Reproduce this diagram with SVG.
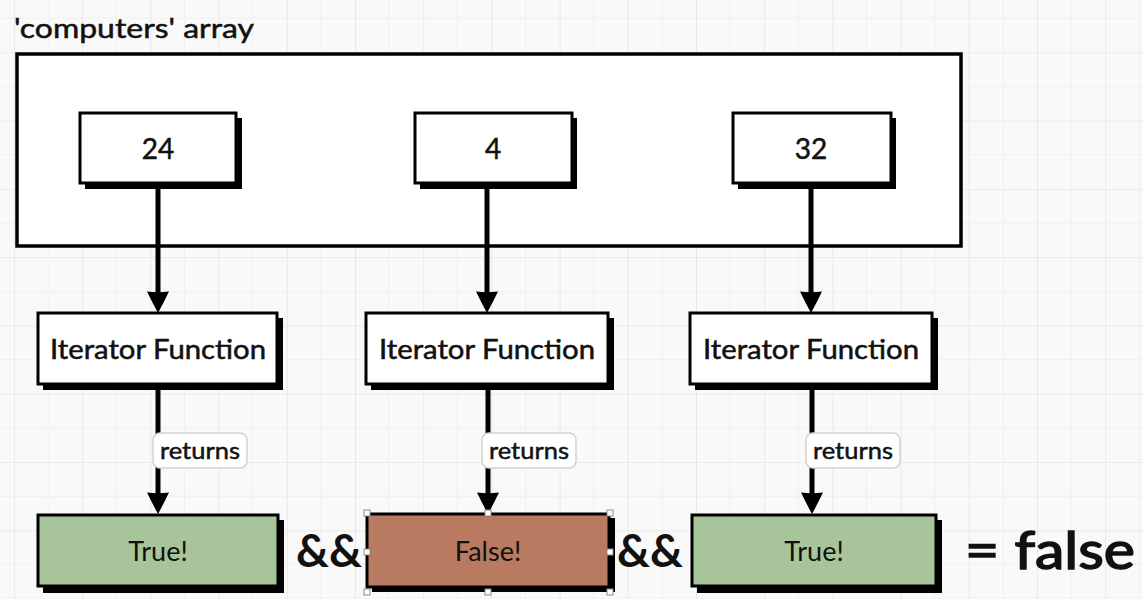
<svg xmlns="http://www.w3.org/2000/svg" width="1143" height="599" viewBox="0 0 1143 599">
  <defs>
    <pattern id="grid" x="14" y="-16" width="68.2" height="68.3" patternUnits="userSpaceOnUse">
      <path d="M34.1,0 V68.3 M0,34.15 H68.2" stroke="#f0f0f0" stroke-width="1" fill="none"/>
      <path d="M0,0 V68.3 M0,0 H68.2" stroke="#e6e6e6" stroke-width="1.6" fill="none"/>
    </pattern>
    <marker id="arrow" markerUnits="userSpaceOnUse" markerWidth="24" markerHeight="26" refX="17" refY="12" orient="auto">
      <path d="M0.5,1 Q11,6 22,12 Q11,18 0.5,23 Q2,12 0.5,1 Z" fill="#000"/>
    </marker>
    <style>
      .t { font-family: Lato, "Open Sans", "Liberation Sans", sans-serif; fill: #111; text-anchor: middle; }
      .m { stroke: #111; stroke-width: 0.5; }
      .shadow { fill: #000; }
      .box { fill: #fff; stroke: #000; stroke-width: 3; }
      .green { fill: #a8c49b; stroke: #000; stroke-width: 3; }
      .brown { fill: #b87a60; stroke: #000; stroke-width: 3; }
      .conn { stroke: #000; stroke-width: 5; fill: none; marker-end: url(#arrow); }
      .lbl { fill: #fff; stroke: #d2d2d2; stroke-width: 1.5; }
      .handle { fill: #fff; stroke: #8a8a8a; stroke-width: 1; }
    </style>
  </defs>

  <rect width="1143" height="599" fill="#f9f9f9"/>
  <rect width="1143" height="599" fill="url(#grid)"/>

  <g id="title">
    <text class="t m" x="14" y="38" style="text-anchor:start" font-size="27" textLength="240" lengthAdjust="spacingAndGlyphs">'computers' array</text>
  </g>

  <g id="array">
    <rect x="17" y="54" width="944" height="192" fill="#fff" stroke="#000" stroke-width="3.5"/>
  </g>

  <g id="connectors">
    <line class="conn" x1="158" y1="183" x2="158" y2="308"/>
    <line class="conn" x1="487" y1="183" x2="487" y2="308"/>
    <line class="conn" x1="811" y1="183" x2="811" y2="308"/>
    <line class="conn" x1="158" y1="385" x2="158" y2="509"/>
    <line class="conn" x1="488" y1="385" x2="488" y2="509"/>
    <line class="conn" x1="812" y1="385" x2="812" y2="509"/>
  </g>

  <g id="n24">
    <rect class="shadow" x="85" y="118" width="157" height="71"/>
    <rect class="box" x="80" y="113" width="156" height="70"/>
    <text class="t m" x="158" y="159" font-size="28">24</text>
  </g>
  <g id="n4">
    <rect class="shadow" x="420" y="118" width="157" height="71"/>
    <rect class="box" x="415" y="113" width="157" height="70"/>
    <text class="t m" x="493" y="159" font-size="28">4</text>
  </g>
  <g id="n32">
    <rect class="shadow" x="738" y="118" width="158" height="71"/>
    <rect class="box" x="733" y="113" width="158" height="70"/>
    <text class="t m" x="811" y="159" font-size="28">32</text>
  </g>

  <g id="iter1">
    <rect class="shadow" x="43" y="318" width="240" height="72"/>
    <rect class="box" x="38" y="313" width="239" height="71"/>
    <text class="t m" x="158" y="359" font-size="26" textLength="216" lengthAdjust="spacingAndGlyphs">Iterator Function</text>
  </g>
  <g id="iter2">
    <rect class="shadow" x="371" y="318" width="243" height="72"/>
    <rect class="box" x="366" y="313" width="242" height="71"/>
    <text class="t m" x="487" y="359" font-size="26" textLength="216" lengthAdjust="spacingAndGlyphs">Iterator Function</text>
  </g>
  <g id="iter3">
    <rect class="shadow" x="695" y="318" width="243" height="72"/>
    <rect class="box" x="690" y="313" width="242" height="71"/>
    <text class="t m" x="811" y="359" font-size="26" textLength="216" lengthAdjust="spacingAndGlyphs">Iterator Function</text>
  </g>

  <g id="ret1">
    <rect class="lbl" x="153" y="433" width="94" height="35" rx="7"/>
    <text class="t m" x="200" y="459" font-size="24" textLength="80" lengthAdjust="spacingAndGlyphs">returns</text>
  </g>
  <g id="ret2">
    <rect class="lbl" x="482" y="433" width="94" height="35" rx="7"/>
    <text class="t m" x="529" y="459" font-size="24" textLength="80" lengthAdjust="spacingAndGlyphs">returns</text>
  </g>
  <g id="ret3">
    <rect class="lbl" x="806" y="433" width="94" height="35" rx="7"/>
    <text class="t m" x="853" y="459" font-size="24" textLength="80" lengthAdjust="spacingAndGlyphs">returns</text>
  </g>

  <g id="res1">
    <rect class="shadow" x="43" y="520" width="241" height="73"/>
    <rect class="green" x="38" y="515" width="240" height="71"/>
    <text class="t" x="158" y="561" font-size="27">True!</text>
  </g>
  <g id="res2">
    <rect class="shadow" x="372" y="518" width="243" height="74"/>
    <rect class="brown" x="367" y="514" width="242" height="73"/>
    <text class="t" x="488" y="561" font-size="27">False!</text>
  </g>
  <g id="res3">
    <rect class="shadow" x="697" y="520" width="245" height="73"/>
    <rect class="green" x="692" y="515" width="244" height="71"/>
    <text class="t" x="814" y="561" font-size="27">True!</text>
  </g>

  <g id="selection">
    <rect class="handle" x="364" y="510" width="6" height="6"/>
    <rect class="handle" x="485" y="510" width="6" height="6"/>
    <rect class="handle" x="607" y="510" width="6" height="6"/>
    <rect class="handle" x="364" y="549" width="6" height="6"/>
    <rect class="handle" x="607" y="549" width="6" height="6"/>
    <rect class="handle" x="364" y="589" width="6" height="6"/>
    <rect class="handle" x="485" y="589" width="6" height="6"/>
    <rect class="handle" x="607" y="589" width="6" height="6"/>
  </g>

  <g id="and1">
    <text class="t" x="329" y="567" font-size="46" font-weight="bold" textLength="66" lengthAdjust="spacingAndGlyphs">&amp;&amp;</text>
  </g>
  <g id="and2">
    <text class="t" x="650" y="567" font-size="46" font-weight="bold" textLength="66" lengthAdjust="spacingAndGlyphs">&amp;&amp;</text>
  </g>
  <g id="result">
    <text class="t" x="1050" y="569" font-size="52" stroke="#111" stroke-width="1.5" textLength="170" lengthAdjust="spacingAndGlyphs">= false</text>
  </g>
</svg>
